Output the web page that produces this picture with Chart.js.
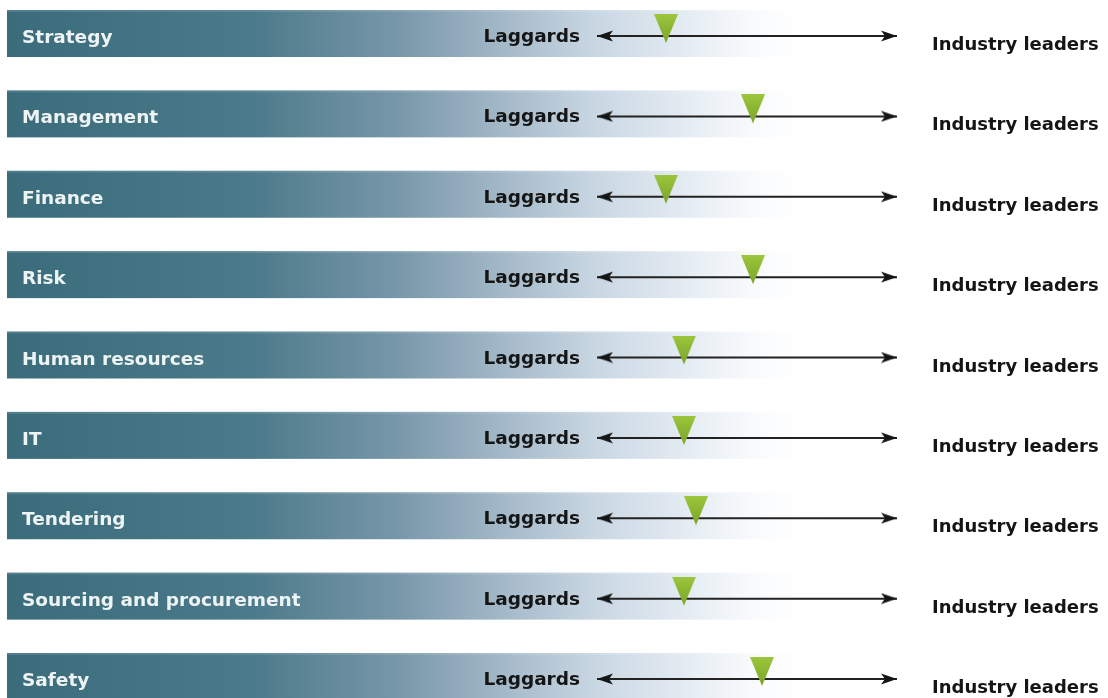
<!DOCTYPE html>
<html>
<head>
<meta charset="utf-8">
<script src="https://cdn.jsdelivr.net/npm/chart.js@4/dist/chart.umd.min.js"></script>
<style>
  html, body { margin: 0; background: #fff; }
  #wrap { width: 1108px; height: 698px; position: relative; }
</style>
</head>
<body>
<div id="wrap"><canvas id="chart"></canvas></div>
<script>
/* Maturity position per function, on a 0 (laggards) .. 100 (industry leaders) scale */

const categories = [
  'Strategy',
  'Management',
  'Finance',
  'Risk',
  'Human resources',
  'IT',
  'Tendering',
  'Sourcing and procurement',
  'Safety'
];
const scores = [23, 52, 23, 52, 29, 29, 33, 29, 55];
const scaleEnds = [0, 100];
const endLabels = ['Laggards', 'Industry leaders'];

// small canvases used as point styles
function makeMarker() {
  const c = document.createElement('canvas');
  c.width = 26; c.height = 44;
  const g = c.getContext('2d');
  const grad = g.createLinearGradient(0, 0, 0, 29);
  grad.addColorStop(0, '#9cc63c');
  grad.addColorStop(1, '#7aa529');
  g.fillStyle = grad;
  g.beginPath();
  g.moveTo(1, 0);
  g.lineTo(25, 0);
  g.lineTo(13, 29);
  g.closePath();
  g.fill();
  return c;
}

function makeHead(dir) {
  const c = document.createElement('canvas');
  c.width = 34; c.height = 12;
  const g = c.getContext('2d');
  g.fillStyle = '#151515';
  g.beginPath();
  if (dir < 0) {
    g.moveTo(17, 6); g.lineTo(33, 0.5); g.lineTo(29, 6); g.lineTo(33, 11.5);
  } else {
    g.moveTo(17, 6); g.lineTo(1, 0.5); g.lineTo(5, 6); g.lineTo(1, 11.5);
  }
  g.closePath();
  g.fill();
  return c;
}

const marker = makeMarker();
const leftHead = makeHead(-1);
const rightHead = makeHead(1);

const FONT = '"DejaVu Sans", Verdana, sans-serif';

// bands + texts, positioned from the scales
const rowDecor = {
  id: 'rowDecor',
  beforeDatasetsDraw(chart) {
    const { ctx } = chart;
    const xs = chart.scales.x;
    const ys = chart.scales.y;
    const x0 = xs.getPixelForValue(scaleEnds[0]);
    const x1 = xs.getPixelForValue(scaleEnds[1]);

    categories.forEach((cat, i) => {
      const yc = ys.getPixelForValue(i);
      const top = yc - 26;
      const h = 47;
      const bx0 = 7, bx1 = 820;

      const grad = ctx.createLinearGradient(bx0, 0, bx1, 0);
      grad.addColorStop(0, '#3a6c7c');
      grad.addColorStop(0.3, '#4b7a8a');
      grad.addColorStop(0.48, '#7797a9');
      grad.addColorStop(0.6, '#a0b6c6');
      grad.addColorStop(0.72, '#c8d6e2');
      grad.addColorStop(0.86, '#eaf0f6');
      grad.addColorStop(1, 'rgba(255,255,255,0)');
      ctx.save();
      ctx.fillStyle = grad;
      ctx.fillRect(bx0, top, bx1 - bx0, h);
      // thin lighter top edge
      ctx.fillStyle = 'rgba(255,255,255,0.12)';
      ctx.fillRect(bx0, top, bx1 - bx0, 2);

      ctx.textBaseline = 'alphabetic';
      ctx.font = 'bold 18.5px ' + FONT;
      ctx.fillStyle = '#eef3f4';
      ctx.textAlign = 'left';
      ctx.fillText(cat, 22, yc + 7);

      ctx.fillStyle = '#151515';
      ctx.textAlign = 'right';
      ctx.fillText(endLabels[0], x0 - 17, yc + 6);
      ctx.font = 'bold 18px ' + FONT;
      ctx.textAlign = 'left';
      ctx.fillText(endLabels[1], x1 + 35, yc + 14);
      ctx.restore();
    });
  }
};

const arrowSets = categories.map((cat) => ({
  type: 'line',
  data: scaleEnds.map((v) => ({ x: v, y: cat })),
  borderColor: '#222',
  borderWidth: 2,
  pointStyle: (c) => (c.dataIndex === 0 ? leftHead : rightHead),
  pointRadius: 6,
  clip: false,
  order: 2
}));

const markerSet = {
  type: 'scatter',
  data: categories.map((cat, i) => ({ x: scores[i], y: cat })),
  pointStyle: marker,
  pointRadius: 12,
  clip: false,
  order: 1
};

new Chart(document.getElementById('chart'), {
  data: { labels: categories, datasets: [...arrowSets, markerSet] },
  plugins: [rowDecor],
  options: {
    responsive: true,
    maintainAspectRatio: false,
    animation: false,
    devicePixelRatio: 1,
    events: [],
    layout: { padding: { left: 597, right: 211, top: 36, bottom: 19 } },
    plugins: { legend: { display: false }, tooltip: { enabled: false } },
    scales: {
      x: { type: 'linear', min: scaleEnds[0], max: scaleEnds[1], display: false },
      y: { type: 'category', labels: categories, offset: false, display: false }
    }
  }
});
</script>
</body>
</html>
